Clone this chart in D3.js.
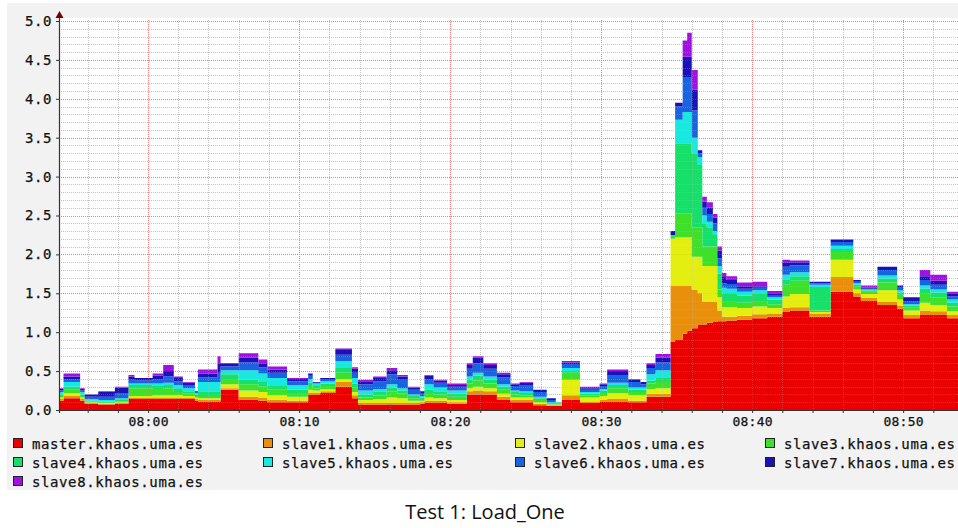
<!DOCTYPE html>
<html>
<head>
<meta charset="utf-8">
<script src="https://cdn.jsdelivr.net/npm/d3@7"></script>
<style>
  body { margin: 0; background: #fff; }
  svg { display: block; }
  .tick text { font-family: "DejaVu Sans Mono", monospace; font-size: 13px; fill: #111; stroke: #111; stroke-width: 0.25px; }
</style>
</head>
<body>
<div id="chart"></div>
<script>
// sample times (step changes of the load graph)
const times = [
  "07:54:00","07:54:24","07:55:30","07:55:48","07:56:42","07:57:48","07:58:42","07:59:06","08:00:18","08:01:00",
  "08:01:42","08:02:18","08:03:06","08:03:18","08:04:36","08:04:48","08:06:00","08:07:18","08:07:54","08:09:12",
  "08:10:36","08:10:54","08:11:24","08:12:24","08:13:30","08:13:54","08:14:54","08:15:48","08:16:30","08:17:12",
  "08:18:00","08:18:18","08:18:54","08:19:48","08:21:06","08:21:30","08:22:12","08:23:06","08:24:00","08:24:36",
  "08:25:30","08:26:24","08:27:00","08:27:24","08:28:36","08:29:54","08:30:24","08:31:48","08:32:36","08:33:00",
  "08:33:36","08:34:36","08:34:54","08:35:24","08:35:42","08:36:00","08:36:24","08:36:42","08:37:00","08:37:24",
  "08:37:42","08:38:00","08:38:18","08:39:00","08:40:00","08:41:00","08:42:00","08:42:30","08:43:48","08:45:12",
  "08:46:42","08:47:12","08:48:18","08:49:36","08:50:00","08:51:06","08:51:48","08:52:54","08:54:00"];

const master = [
  0.12,0.15,0.12,0.08,0.07,0.08,0.14,0.14,0.14,0.14,
  0.14,0.14,0.12,0.11,0.11,0.26,0.13,0.12,0.10,0.10,
  0.20,0.20,0.22,0.30,0.15,0.07,0.07,0.07,0.07,0.07,
  0.08,0.09,0.09,0.08,0.20,0.20,0.20,0.13,0.10,0.10,
  0.06,0.05,0.05,0.13,0.09,0.11,0.11,0.10,0.10,0.17,
  0.17,0.88,0.90,0.98,1.02,1.05,1.10,1.10,1.12,1.13,
  1.14,1.14,1.15,1.16,1.18,1.20,1.26,1.28,1.20,1.52,
  1.46,1.40,1.35,1.30,1.18,1.22,1.22,1.18,1.18];
const slave1 = [
  0.02,0.03,0.02,0.01,0.01,0.01,0.02,0.02,0.02,0.02,
  0.02,0.02,0.02,0.02,0.02,0.02,0.04,0.04,0.03,0.02,
  0.02,0.02,0.02,0.06,0.04,0.02,0.02,0.02,0.02,0.02,
  0.02,0.03,0.03,0.02,0.04,0.05,0.04,0.04,0.03,0.03,
  0.02,0.01,0.01,0.06,0.02,0.02,0.03,0.02,0.02,0.04,
  0.04,0.72,0.70,0.62,0.58,0.50,0.40,0.29,0.27,0.26,
  0.14,0.06,0.05,0.05,0.05,0.04,0.05,0.04,0.04,0.19,
  0.04,0.04,0.04,0.04,0.04,0.06,0.05,0.04,0.04];
const slave2 = [
  0.02,0.04,0.02,0.01,0.01,0.01,0.02,0.02,0.03,0.03,
  0.03,0.02,0.02,0.02,0.02,0.05,0.08,0.07,0.06,0.05,
  0.04,0.03,0.03,0.04,0.04,0.04,0.05,0.07,0.06,0.03,
  0.02,0.04,0.03,0.03,0.04,0.05,0.04,0.04,0.03,0.03,
  0.02,0.01,0.01,0.20,0.05,0.05,0.08,0.07,0.07,0.06,
  0.07,0.60,0.62,0.62,0.62,0.42,0.47,0.46,0.46,0.46,
  0.17,0.12,0.12,0.10,0.10,0.07,0.15,0.17,0.02,0.22,
  0.05,0.05,0.15,0.08,0.06,0.10,0.08,0.05,0.05];
const slave3 = [
  0.02,0.04,0.02,0.01,0.01,0.01,0.10,0.10,0.08,0.09,
  0.04,0.03,0.02,0.03,0.03,0.07,0.08,0.07,0.07,0.05,
  0.05,0.03,0.04,0.08,0.06,0.03,0.05,0.08,0.06,0.03,
  0.02,0.06,0.05,0.04,0.06,0.08,0.06,0.05,0.04,0.03,
  0.03,0.01,0.01,0.09,0.03,0.04,0.06,0.04,0.04,0.07,
  0.08,0.05,0.31,0.31,0.31,0.38,0.38,0.25,0.25,0.25,
  0.10,0.08,0.08,0.07,0.07,0.05,0.15,0.17,0.02,0.10,
  0.04,0.03,0.10,0.06,0.04,0.12,0.10,0.06,0.06];
const slave4 = [
  0.02,0.04,0.02,0.01,0.01,0.02,0.04,0.04,0.04,0.04,
  0.04,0.03,0.02,0.06,0.06,0.06,0.06,0.06,0.05,0.04,
  0.04,0.03,0.03,0.06,0.05,0.04,0.05,0.05,0.04,0.03,
  0.02,0.04,0.04,0.04,0.05,0.06,0.05,0.04,0.03,0.03,
  0.02,0.01,0.01,0.02,0.02,0.03,0.04,0.03,0.03,0.04,
  0.05,0.00,0.90,0.90,0.90,0.95,0.80,0.30,0.25,0.15,
  0.20,0.10,0.10,0.09,0.09,0.06,0.07,0.06,0.30,0.04,
  0.02,0.02,0.05,0.03,0.02,0.06,0.06,0.05,0.05];
const slave5 = [
  0.03,0.06,0.03,0.02,0.02,0.02,0.02,0.02,0.03,0.03,
  0.05,0.04,0.02,0.12,0.12,0.05,0.12,0.11,0.10,0.06,
  0.05,0.03,0.03,0.09,0.07,0.05,0.03,0.04,0.03,0.02,
  0.02,0.07,0.05,0.04,0.04,0.04,0.04,0.03,0.02,0.02,
  0.02,0.01,0.01,0.04,0.02,0.02,0.03,0.03,0.03,0.08,
  0.10,0.00,0.30,0.40,0.40,0.20,0.10,0.10,0.07,0.05,
  0.10,0.07,0.06,0.05,0.05,0.03,0.06,0.05,0.03,0.04,
  0.02,0.01,0.04,0.03,0.02,0.04,0.04,0.04,0.04];
const slave6 = [
  0.02,0.04,0.02,0.03,0.04,0.07,0.05,0.04,0.06,0.08,
  0.05,0.04,0.01,0.06,0.12,0.05,0.10,0.08,0.07,0.05,
  0.04,0.01,0.02,0.08,0.07,0.08,0.10,0.13,0.11,0.06,
  0.04,0.07,0.06,0.05,0.10,0.12,0.10,0.09,0.06,0.08,
  0.06,0.03,0.00,0.05,0.03,0.04,0.10,0.07,0.04,0.08,
  0.10,0.00,0.17,0.45,0.45,0.35,0.05,0.10,0.10,0.10,
  0.10,0.06,0.06,0.04,0.03,0.02,0.10,0.09,0.02,0.05,
  0.02,0.01,0.07,0.04,0.04,0.07,0.06,0.04,0.04];
const slave7 = [
  0.02,0.03,0.02,0.03,0.06,0.07,0.04,0.03,0.04,0.07,
  0.04,0.03,0.01,0.05,0.12,0.04,0.06,0.05,0.04,0.03,
  0.03,0.01,0.02,0.06,0.05,0.04,0.04,0.05,0.04,0.03,
  0.02,0.04,0.03,0.02,0.05,0.07,0.05,0.04,0.02,0.03,
  0.03,0.02,0.00,0.02,0.02,0.02,0.05,0.03,0.03,0.04,
  0.06,0.05,0.05,0.26,0.26,0.27,0.04,0.08,0.08,0.07,
  0.10,0.08,0.05,0.03,0.02,0.02,0.06,0.04,0.02,0.03,
  0.02,0.01,0.04,0.02,0.05,0.05,0.05,0.04,0.04];
const slave8 = [
  0.01,0.04,0.01,0.00,0.01,0.01,0.02,0.00,0.03,0.08,
  0.02,0.01,0.00,0.05,0.09,0.00,0.06,0.05,0.04,0.01,
  0.00,0.00,0.00,0.02,0.02,0.02,0.02,0.03,0.02,0.01,
  0.00,0.01,0.01,0.02,0.02,0.02,0.02,0.02,0.01,0.01,
  0.00,0.00,0.00,0.02,0.02,0.01,0.02,0.01,0.00,0.02,
  0.05,0.00,0.00,0.21,0.31,0.25,0.00,0.06,0.07,0.05,
  0.05,0.05,0.05,0.05,0.06,0.04,0.03,0.02,0.00,0.00,
  0.00,0.03,0.00,0.00,0.00,0.08,0.08,0.02,0.02];

const hosts = ["master.khaos.uma.es","slave1.khaos.uma.es","slave2.khaos.uma.es","slave3.khaos.uma.es",
  "slave4.khaos.uma.es","slave5.khaos.uma.es","slave6.khaos.uma.es","slave7.khaos.uma.es","slave8.khaos.uma.es"];
const colors = ["#ea0000","#e8900c","#e4ee10","#3ee02a","#16e06a","#18e8e0","#1864e0","#1a12b8","#a010e0"];
const yTicks = [0, 0.5, 1, 1.5, 2, 2.5, 3, 3.5, 4, 4.5, 5];

const W = 958, H = 528;
const plotL = 59, plotR = 958, plotT = 18, plotB = 410;

const svg = d3.select("#chart").append("svg")
  .attr("width", W)
  .attr("height", H);

// gray graph background + white canvas
svg.append("rect").attr("x", 7).attr("y", 3).attr("width", W - 7).attr("height", 487).attr("fill", "#f2f2f2");
svg.append("rect").attr("x", plotL).attr("y", plotT).attr("width", plotR - plotL).attr("height", plotB - plotT).attr("fill", "#fff");

const parseTime = d3.timeParse("%H:%M:%S");
const series = [master, slave1, slave2, slave3, slave4, slave5, slave6, slave7, slave8];
const rows = times.map((t, i) => {
  const r = {time: parseTime(t)};
  hosts.forEach((h, j) => r[h] = series[j][i]);
  return r;
});

const x = d3.scaleTime()
  .domain([parseTime("07:54:06"), parseTime("08:53:38")])
  .range([plotL, plotR]);
const y = d3.scaleLinear().domain([0, 5]).range([plotB, 21]);

svg.append("clipPath").attr("id", "clip")
  .append("rect").attr("x", plotL).attr("y", plotT).attr("width", plotR - plotL).attr("height", plotB - plotT);

// grid
const minorX = d3.timeMinute.every(2).range(parseTime("07:55:00"), parseTime("08:54:00"));
const minorY = d3.range(1, 51).map(d => d / 10);
function drawGrid(g) {
  g.selectAll(".vx").data(minorX).enter().append("line")
    .attr("x1", d => Math.round(x(d)) + 0.5).attr("x2", d => Math.round(x(d)) + 0.5)
    .attr("y1", plotT + 2).attr("y2", plotB)
    .attr("stroke", d => d.getMinutes() % 10 == 0 ? "#f08080" : "#c4c4c4")
    .attr("stroke-dasharray", "1,1");
  g.selectAll(".hy").data(minorY).enter().append("line")
    .attr("x1", plotL).attr("x2", plotR)
    .attr("y1", d => Math.round(y(d)) + 0.5).attr("y2", d => Math.round(y(d)) + 0.5)
    .attr("stroke", d => Math.round(d * 10) % 5 == 0 ? "#f08080" : "#c4c4c4")
    .attr("stroke-dasharray", "1,1");
}
drawGrid(svg.append("g"));

// stacked areas
const stack = d3.stack().keys(hosts);
const layers = stack(rows);
const area = d3.area()
  .curve(d3.curveStepAfter)
  .x(d => x(d.data.time))
  .y0(d => y(d[0]))
  .y1(d => y(d[1]));

svg.append("g").attr("clip-path", "url(#clip)")
  .selectAll("path")
  .data(layers)
  .enter()
  .append("path")
    .attr("d", area)
    .attr("fill", (d, i) => colors[i]);

// faint grid drawn over the areas like rrdtool does
drawGrid(svg.append("g").attr("opacity", 0.25).attr("clip-path", "url(#clip)"));

// axes
const yAxis = d3.axisLeft(y).tickValues(yTicks).tickFormat(d3.format(".1f")).tickSize(3).tickPadding(4);
const gy = svg.append("g").attr("transform", `translate(${plotL},0)`).call(yAxis);
gy.select(".domain").remove();
gy.selectAll(".tick line").attr("stroke", "#333");
gy.selectAll(".tick text").style("font-size", "14px").attr("letter-spacing", "0.6px");

const xAxis = d3.axisBottom(x)
  .tickValues(minorX)
  .tickFormat(d => d.getMinutes() % 10 == 0 ? d3.timeFormat("%H:%M")(d) : "")
  .tickSize(3).tickPadding(4);
const gx = svg.append("g").attr("transform", `translate(0,${plotB})`).call(xAxis);
gx.select(".domain").remove();
gx.selectAll(".tick line").attr("stroke", "#333");
gx.selectAll(".tick text").attr("letter-spacing", "0.2px");

svg.append("line").attr("x1", plotL).attr("x2", plotR).attr("y1", plotB + 0.5).attr("y2", plotB + 0.5)
  .attr("stroke", "#333").attr("stroke-width", 1);
svg.append("line").attr("x1", plotL + 0.5).attr("x2", plotL + 0.5).attr("y1", 16).attr("y2", plotB + 3)
  .attr("stroke", "#333").attr("stroke-width", 1.2);
svg.append("path").attr("d", `M${plotL - 3.5},18 L${plotL + 0.5},11 L${plotL + 4.5},18 Z`).attr("fill", "#700");

// legend
const legend = svg.append("g");
const colX = [13, 263, 515, 765];
hosts.forEach((h, i) => {
  const cx = colX[i % 4], ry = 438 + Math.floor(i / 4) * 19;
  legend.append("rect").attr("x", cx + 0.5).attr("y", ry + 0.5).attr("width", 9).attr("height", 9)
    .attr("fill", colors[i]).attr("stroke", "#222").attr("stroke-width", 1);
  legend.append("text").attr("x", cx + 19).attr("y", ry + 10.5)
    .attr("font-family", "DejaVu Sans Mono, monospace").attr("font-size", 14)
    .attr("letter-spacing", "0.6px").attr("fill", "#111")
    .attr("stroke", "#111").attr("stroke-width", 0.25)
    .text(h);
});

// caption
svg.append("text").attr("x", 485).attr("y", 519).attr("text-anchor", "middle")
  .attr("font-family", "Open Sans, sans-serif").attr("font-size", 20).attr("fill", "#111")
  .text("Test 1: Load_One");
</script>
</body>
</html>
